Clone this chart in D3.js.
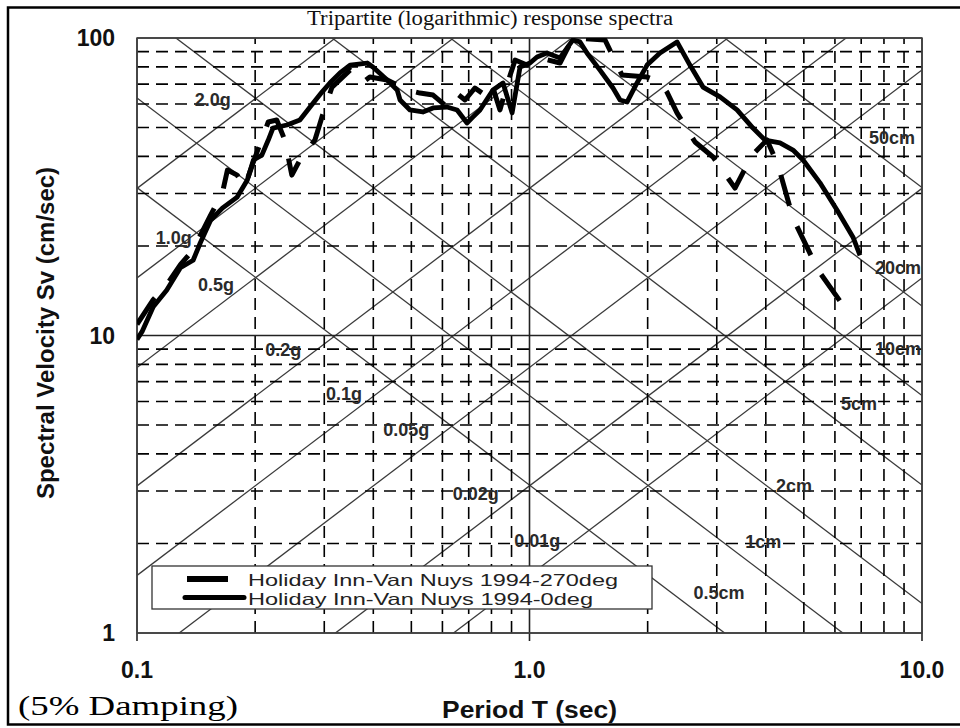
<!DOCTYPE html>
<html>
<head>
<meta charset="utf-8">
<style>
  body { margin: 0; background: #fff; }
  text { font-family: Arial, "Liberation Sans", sans-serif; }
</style>
</head>
<body>
<script src="https://cdn.jsdelivr.net/npm/d3@7/dist/d3.min.js"></script>
<script>
// ---- data ----
// Holiday Inn-Van Nuys 1994-0deg (solid)
var period0 = [0.100,0.103,0.110,0.119,0.129,0.139,0.145,0.154,0.165,0.180,0.191,0.198,0.208,0.216,0.222,0.241,0.260,0.276,0.296,0.310,0.329,0.349,0.386,0.399,0.434,0.460,0.468,0.496,0.535,0.568,0.616,0.654,0.693,0.718,0.748,0.807,0.856,0.903,0.946,1.003,1.045,1.108,1.196,1.290,1.345,1.401,1.512,1.632,1.701,1.772,1.879,1.993,2.150,2.376,2.563,2.767,3.058,3.379,3.710,3.981,4.347,4.692,4.977,5.497,6.073,6.672,6.950];
var sv0     = [9.7,10.3,12.5,14.2,16.9,17.9,20.5,24.4,26.8,29.2,33.3,38.9,40.4,45.4,49.8,51.0,53.0,58.6,65.8,70.6,76.3,81.1,82.4,79.9,72.2,66.9,61.9,57.3,56.4,58.2,58.6,57.3,51.8,54.3,57.3,66.9,70.6,56.0,79.9,82.4,86.3,89.0,85.7,98.5,97.0,89.0,78.0,67.9,61.9,60.9,70.6,81.1,89.0,97.0,81.1,68.4,63.4,57.3,49.8,45.4,44.4,42.0,38.9,32.6,26.4,21.4,18.6];
// Holiday Inn-Van Nuys 1994-270deg (dashed)
var period270 = [0.100,0.110,0.119,0.129,0.139,0.154,0.165,0.170,0.180,0.188,0.200,0.216,0.227,0.238,0.248,0.260,0.284,0.296,0.314,0.349,0.374,0.392,0.434,0.487,0.526,0.568,0.609,0.646,0.685,0.726,0.770,0.803,0.841,0.876,0.919,0.985,1.064,1.196,1.290,1.557,1.720,1.993,2.150,2.240,2.376,2.641,2.935,3.339,3.689,4.028,4.296,4.692,5.433,6.633];
var sv270     = [10.9,13.2,14.8,17.3,19.4,25.4,30.1,36.0,34.6,31.6,39.8,52.2,53.0,45.4,34.6,38.9,45.4,54.3,68.4,78.0,70.6,73.9,72.2,66.9,65.3,64.3,59.5,65.8,61.9,67.9,64.3,69.5,57.3,69.5,84.3,81.1,85.7,82.4,100,98.5,75.1,73.9,71.1,65.8,56.0,44.7,39.8,31.3,40.4,45.4,37.4,24.8,16.6,11.45];

// tripartite diagonals
var accelG = [0.01,0.02,0.05,0.1,0.2,0.5,1.0,2.0];          // constant Sa (g)
var dispCm = [0.5,1,2,5,10,20,50];                           // constant Sd (cm)
var accelLabels = ["0.01g","0.02g","0.05g","0.1g","0.2g","0.5g","1.0g","2.0g"];
var accelLabelT  = [1.047,0.730,0.485,0.337,0.236,0.159,0.124,0.156];
var accelLabelSv = [2.05,2.93,4.81,6.36,8.94,14.8,21.4,61.9];
var dispLabels = ["0.5cm","1cm","2cm","5cm","10cm","20cm","50cm"];
var dispLabelT  = [3.04,3.94,4.72,6.91,8.69,8.69,8.39];
var dispLabelSv = [1.37,2.02,3.12,5.89,9.01,16.9,46.1];

var xTicks = [0.1,1,10], xTickLabels = ["0.1","1.0","10.0"];
var yTicks = [1,10,100], yTickLabels = ["1","10","100"];
var seriesNames = ["Holiday Inn-Van Nuys 1994-270deg","Holiday Inn-Van Nuys 1994-0deg"];

// ---- drawing ----
var W = 960, H = 728;
var L = 137, R = 922, T = 38, B = 633;
var G = 981; // cm/s^2

var svg = d3.select("body").append("svg").attr("width", W).attr("height", H);

var x = d3.scaleLog().domain([0.1,10]).range([L,R]);
var y = d3.scaleLog().domain([1,100]).range([B,T]);

svg.append("defs").append("clipPath").attr("id","plot")
   .append("rect").attr("x",L).attr("y",T).attr("width",R-L).attr("height",B-T);

// outer frame
svg.append("rect").attr("x",8).attr("y",7.5).attr("width",970).attr("height",717)
   .attr("fill","none").attr("stroke","#000").attr("stroke-width",2.5);

var gp = svg.append("g").attr("clip-path","url(#plot)");

// diagonals
var line = d3.line().x(d => x(d[0])).y(d => y(d[1]));
gp.selectAll("path.acc").data(accelG).join("path").attr("class","acc")
  .attr("d", g => line([0.1,10].map(t => [t, g*G*t/(2*Math.PI)])))
  .attr("fill","none").attr("stroke","#3a3a3a").attr("stroke-width",1.3);
gp.selectAll("path.disp").data(dispCm).join("path").attr("class","disp")
  .attr("d", s => line([0.1,10].map(t => [t, 2*Math.PI*s/t])))
  .attr("fill","none").attr("stroke","#3a3a3a").attr("stroke-width",1.3);

// dashed grid
var xMinor = x.ticks().filter(v => xTicks.indexOf(+v.toPrecision(3)) < 0);
var yMinor = y.ticks().filter(v => yTicks.indexOf(+v.toPrecision(3)) < 0);
svg.selectAll("line.vx").data(xMinor).join("line").attr("class","vx")
   .attr("x1",d=>x(d)).attr("x2",d=>x(d)).attr("y1",B).attr("y2",T)
   .attr("stroke","#000").attr("stroke-width",1.6).attr("stroke-dasharray","12,7");
svg.selectAll("line.hy").data(yMinor).join("line").attr("class","hy")
   .attr("x1",L).attr("x2",R).attr("y1",d=>y(d)).attr("y2",d=>y(d))
   .attr("stroke","#000").attr("stroke-width",1.6).attr("stroke-dasharray","12,7");

// major lines + ticks
svg.selectAll("line.mx").data(xTicks).join("line").attr("class","mx")
   .attr("x1",d=>x(d)).attr("x2",d=>x(d)).attr("y1",B+8).attr("y2",T)
   .attr("stroke","#222").attr("stroke-width",1.6);
svg.selectAll("line.my").data(yTicks).join("line").attr("class","my")
   .attr("x1",L).attr("x2",R).attr("y1",d=>y(d)).attr("y2",d=>y(d))
   .attr("stroke","#222").attr("stroke-width",1.6);
svg.append("rect").attr("x",L).attr("y",T).attr("width",R-L).attr("height",B-T)
   .attr("fill","none").attr("stroke","#444").attr("stroke-width",1.5);

// diagonal labels
svg.selectAll("text.al").data(accelLabels).join("text").attr("class","al")
   .attr("x",(d,i)=>x(accelLabelT[i])).attr("y",(d,i)=>y(accelLabelSv[i]))
   .attr("dy","0.35em").attr("text-anchor","middle")
   .attr("font-size",18).attr("font-weight","bold").attr("fill","#2a2a2a").text(d=>d);
svg.selectAll("text.dl").data(dispLabels).join("text").attr("class","dl")
   .attr("x",(d,i)=>x(dispLabelT[i])).attr("y",(d,i)=>y(dispLabelSv[i]))
   .attr("dy","0.35em").attr("text-anchor","middle")
   .attr("font-size",18).attr("font-weight","bold").attr("fill","#2a2a2a").text(d=>d);

// spectra
var gc = svg.append("g").attr("clip-path","url(#plot)");
gc.append("path").datum(period270.map((t,i)=>[t,sv270[i]]))
  .attr("d", line).attr("fill","none").attr("stroke","#000")
  .attr("stroke-width",5).attr("stroke-dasharray","32,22").attr("stroke-linejoin","round");
gc.append("path").datum(period0.map((t,i)=>[t,sv0[i]]))
  .attr("d", line).attr("fill","none").attr("stroke","#000")
  .attr("stroke-width",4.8).attr("stroke-linejoin","round");

// tick labels
svg.selectAll("text.xt").data(xTicks).join("text").attr("class","xt")
   .attr("x",d=>x(d)).attr("y",678).attr("text-anchor","middle")
   .attr("font-size",23).attr("font-weight","bold").attr("fill","#111")
   .text((d,i)=>xTickLabels[i]);
svg.selectAll("text.yt").data(yTicks).join("text").attr("class","yt")
   .attr("x",115).attr("y",d=>y(d)).attr("dy","0.36em").attr("text-anchor","end")
   .attr("font-size",23).attr("font-weight","bold").attr("fill","#111")
   .text((d,i)=>yTickLabels[i]);

// titles
svg.append("text").attr("transform","translate(46,333) rotate(-90)")
   .attr("dy","0.35em").attr("text-anchor","middle")
   .attr("font-size",24).attr("font-weight","bold").attr("fill","#111")
   .text("Spectral Velocity Sv (cm/sec)");
svg.append("text").attr("x",442).attr("y",718)
   .attr("textLength",175).attr("lengthAdjust","spacingAndGlyphs")
   .attr("font-size",24).attr("font-weight","bold").attr("fill","#111")
   .text("Period T (sec)");
svg.append("text").attr("x",307).attr("y",25)
   .attr("textLength",366).attr("lengthAdjust","spacingAndGlyphs")
   .style("font-family","'Liberation Serif','Times New Roman',serif")
   .attr("font-size",20).attr("fill","#111")
   .text("Tripartite (logarithmic) response spectra");
svg.append("text").attr("x",18).attr("y",715)
   .attr("textLength",220).attr("lengthAdjust","spacingAndGlyphs")
   .style("font-family","'Liberation Serif','Times New Roman',serif")
   .attr("font-size",27).attr("fill","#000")
   .text("(5% Damping)");

// legend
var lg = svg.append("g");
lg.append("rect").attr("x",152).attr("y",566).attr("width",500).attr("height",43)
  .attr("fill","#fff").attr("stroke","#333").attr("stroke-width",1.3);
lg.append("line").attr("x1",187).attr("x2",228).attr("y1",579).attr("y2",579)
  .attr("stroke","#000").attr("stroke-width",6);
lg.append("line").attr("x1",185).attr("x2",244).attr("y1",597.5).attr("y2",597.5)
  .attr("stroke","#000").attr("stroke-width",5).attr("stroke-linecap","round");
lg.selectAll("text").data(seriesNames).join("text")
  .attr("x",248).attr("y",(d,i)=>i?605:586)
  .attr("textLength",(d,i)=>i?345:370).attr("lengthAdjust","spacingAndGlyphs")
  .attr("font-size",16.5).attr("fill","#222").text(d=>d);
</script>
</body>
</html>
